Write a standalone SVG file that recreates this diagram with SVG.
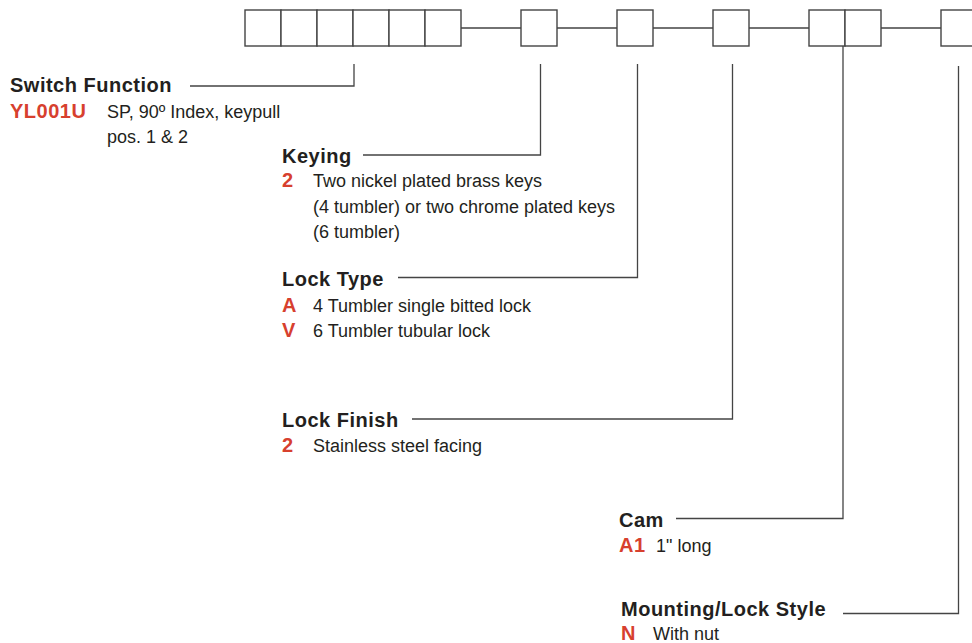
<svg xmlns="http://www.w3.org/2000/svg" width="972" height="643" viewBox="0 0 972 643">
<style>
.box{fill:#fff;stroke:#444;stroke-width:1.4}
.ln{fill:none;stroke:#444;stroke-width:1.3}
.h{font-family:"Liberation Sans",Arial,sans-serif;font-weight:bold;font-size:20px;letter-spacing:0.5px;fill:#231f20}
.c{font-family:"Liberation Sans",Arial,sans-serif;font-weight:bold;font-size:20px;letter-spacing:0.5px;fill:#d7402e}
.t{font-family:"Liberation Sans",Arial,sans-serif;font-size:18px;fill:#231f20}
</style>
<rect width="972" height="643" fill="#fff"/>
<g id="connectors">
<path class="ln" d="M461 28H521M557 28H617M653 28H713M749 28H809M881 28H941"/>
<path class="ln" d="M190 86H354V64"/>
<path class="ln" d="M363 155H540.5V64"/>
<path class="ln" d="M398 277.5H637.5V64"/>
<path class="ln" d="M412 419H732.5V64"/>
<path class="ln" d="M676 518.5H843V46"/>
<path class="ln" d="M843 613.5H958.5V66"/>
</g>
<g id="code-boxes">
<rect class="box" x="245" y="10" width="36" height="36"/>
<rect class="box" x="281" y="10" width="36" height="36"/>
<rect class="box" x="317" y="10" width="36" height="36"/>
<rect class="box" x="353" y="10" width="36" height="36"/>
<rect class="box" x="389" y="10" width="36" height="36"/>
<rect class="box" x="425" y="10" width="36" height="36"/>
<rect class="box" x="521" y="10" width="36" height="36"/>
<rect class="box" x="617" y="10" width="36" height="36"/>
<rect class="box" x="713" y="10" width="36" height="36"/>
<rect class="box" x="809" y="10" width="36" height="36"/>
<rect class="box" x="845" y="10" width="36" height="36"/>
<rect class="box" x="941" y="10" width="36" height="36"/>
</g>
<g id="switch-function">
<text class="h" x="10" y="92">Switch Function</text>
<text class="c" x="10" y="118">YL001U</text>
<text class="t" x="107" y="118">SP, 90º Index, keypull</text>
<text class="t" x="107" y="143">pos. 1 &amp; 2</text>
</g>
<g id="keying">
<text class="h" x="282" y="163">Keying</text>
<text class="c" x="282" y="187">2</text>
<text class="t" x="313" y="187">Two nickel plated brass keys</text>
<text class="t" x="313" y="213">(4 tumbler) or two chrome plated keys</text>
<text class="t" x="313" y="238">(6 tumbler)</text>
</g>
<g id="lock-type">
<text class="h" x="282" y="286">Lock Type</text>
<text class="c" x="282" y="312">A</text>
<text class="t" x="313" y="312">4 Tumbler single bitted lock</text>
<text class="c" x="282" y="337">V</text>
<text class="t" x="313" y="337">6 Tumbler tubular lock</text>
</g>
<g id="lock-finish">
<text class="h" x="282" y="427">Lock Finish</text>
<text class="c" x="282" y="452">2</text>
<text class="t" x="313" y="452">Stainless steel facing</text>
</g>
<g id="cam">
<text class="h" x="619" y="527">Cam</text>
<text class="c" x="619" y="552">A1</text>
<text class="t" x="656" y="552">1" long</text>
</g>
<g id="mounting">
<text class="h" x="621" y="616">Mounting/Lock Style</text>
<text class="c" x="621" y="640">N</text>
<text class="t" x="653" y="640">With nut</text>
</g>
</svg>
